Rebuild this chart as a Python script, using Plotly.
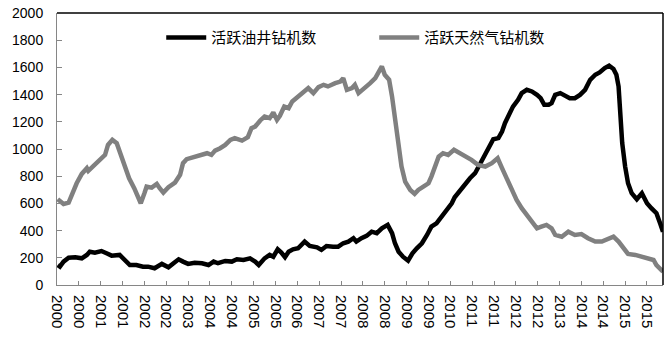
import plotly.graph_objects as go

# week index (weekly data, 0 = first week of 2000)
oil_week = [1, 4, 9, 16, 25, 34, 41, 45, 52, 61, 68, 75, 86, 93, 100, 109, 118, 125, 134, 144,
            153, 160, 167, 173, 180, 189, 199, 208, 215, 221, 231, 240, 247, 256, 265, 272, 277, 285,
            292, 297, 303, 308, 313, 318, 324, 331, 340, 347, 357, 363, 370, 379, 386, 393, 400, 407,
            411, 418, 425, 432, 439, 446, 454, 460, 464, 469, 475, 482, 488, 494, 501, 508, 514, 521,
            528, 535, 542, 546, 553, 559, 567, 574, 581, 588, 594, 599, 606, 611, 615, 620, 626, 633,
            638, 645, 652, 659, 664, 669, 675, 679, 684, 691, 697, 704, 711, 718, 725, 732, 739, 745,
            752, 758, 764, 768, 771, 774, 776, 780, 784, 789, 796, 803, 810, 816, 823, 828, 832]
oil_rigs = [147, 135, 172, 201, 204, 196, 221, 245, 238, 250, 233, 216, 221, 184, 147, 147, 135, 135, 123, 155,
            130, 160, 189, 172, 155, 164, 160, 147, 172, 160, 177, 172, 189, 184, 196, 172, 147, 196,
            221, 208, 262, 238, 204, 245, 262, 270, 319, 287, 277, 258, 287, 282, 282, 307, 319, 344,
            319, 344, 361, 392, 381, 417, 442, 381, 307, 245, 208, 179, 233, 270, 307, 368, 429, 454,
            503, 552, 601, 645, 690, 740, 785, 822, 896, 957, 1030, 1072, 1080, 1128, 1190, 1239, 1312, 1362,
            1411, 1435, 1423, 1398, 1374, 1325, 1325, 1337, 1398, 1411, 1398, 1374, 1374, 1398, 1435, 1509, 1546, 1563,
            1595, 1612, 1588, 1546, 1460, 1239, 1043, 871, 748, 675, 631, 675, 601, 565, 528, 454, 392]

gas_week = [1, 9, 16, 20, 27, 34, 41, 43, 52, 59, 66, 70, 76, 82, 86, 93, 99, 106, 111, 115,
            120, 123, 130, 137, 141, 146, 153, 162, 169, 173, 178, 187, 196, 206, 212, 217, 224, 231,
            238, 244, 254, 262, 267, 272, 279, 285, 292, 297, 302, 306, 312, 318, 323, 331, 338, 345,
            352, 359, 366, 372, 382, 389, 393, 398, 405, 409, 414, 421, 430, 437, 442, 446, 450, 456,
            460, 464, 469, 473, 478, 485, 491, 496, 503, 510, 514, 519, 524, 530, 537, 545, 552, 560,
            569, 578, 588, 597, 605, 611, 617, 624, 631, 638, 645, 652, 659, 665, 672, 679, 684, 693,
            702, 711, 720, 729, 739, 748, 757, 764, 771, 777, 784, 794, 803, 812, 819, 823, 828, 832]
gas_rigs = [631, 596, 606, 662, 748, 817, 859, 839, 888, 915, 957, 1030, 1067, 1043, 981, 896, 785, 712, 650, 601,
            675, 723, 716, 743, 712, 679, 719, 753, 810, 896, 925, 940, 949, 969, 957, 988, 1006, 1030,
            1067, 1080, 1062, 1087, 1153, 1165, 1210, 1239, 1227, 1268, 1214, 1244, 1312, 1300, 1349, 1386, 1423, 1448,
            1411, 1455, 1472, 1460, 1484, 1496, 1521, 1435, 1448, 1472, 1411, 1440, 1484, 1521, 1570, 1607, 1546, 1509,
            1386, 1239, 1067, 871, 760, 699, 670, 699, 723, 748, 797, 883, 944, 969, 957, 994, 974, 950,
            920, 883, 871, 896, 932, 859, 785, 699, 626, 565, 515, 466, 417, 429, 442, 417, 368, 355,
            392, 368, 375, 344, 319, 319, 336, 355, 319, 282, 228, 221, 208, 196, 184, 147, 115, 98]

tick_weeks = list(range(0, 811, 30))
tick_labels = ["2000", "2000", "2001", "2001", "2002", "2002", "2003", "2004", "2004", "2005",
               "2005", "2006", "2007", "2007", "2008", "2008", "2009", "2009", "2010", "2011",
               "2011", "2012", "2012", "2013", "2014", "2014", "2015", "2015"]

fig = go.Figure()
fig.add_trace(go.Scatter(x=oil_week, y=oil_rigs, mode="lines", name="活跃油井钻机数",
                         line=dict(color="#000000", width=4.5)))
fig.add_trace(go.Scatter(x=gas_week, y=gas_rigs, mode="lines", name="活跃天然气钻机数",
                         line=dict(color="#808080", width=4.5)))

axis_gray = "#868686"
fig.update_layout(
    width=666, height=352,
    margin=dict(l=57, r=3, t=13, b=67),
    plot_bgcolor="white", paper_bgcolor="white",
    showlegend=True,
    legend=dict(orientation="h", x=0.172, y=0.97, xanchor="left", yanchor="top",
                font=dict(family="Noto Sans CJK SC", size=15, color="#000000"),
                bgcolor="rgba(0,0,0,0)", entrywidth=158, entrywidthmode="pixels",
                itemwidth=40),
    xaxis=dict(range=[0, 832], tickmode="array", tickvals=tick_weeks, ticktext=tick_labels,
               tickangle=90, ticks="inside", ticklen=4, tickcolor=axis_gray,
               showline=True, linecolor=axis_gray, linewidth=1, showgrid=False, zeroline=False,
               tickfont=dict(family="Liberation Sans", size=15, color="#000000"),
               ticklabelstandoff=6),
    yaxis=dict(range=[0, 2000], dtick=200, ticks="inside", ticklen=5, tickcolor=axis_gray,
               showline=True, linecolor=axis_gray, linewidth=1, showgrid=False, zeroline=False,
               tickfont=dict(family="Liberation Sans", size=14, color="#000000"),
               ticklabelstandoff=10),
)
fig.add_shape(type="line", xref="paper", yref="paper", x0=0, x1=1, y0=1, y1=1,
              line=dict(color="#000000", width=1.5))
fig.add_shape(type="line", xref="paper", yref="paper", x0=1, x1=1, y0=0, y1=1,
              line=dict(color="#000000", width=1.5))

fig.write_html("out.html")
